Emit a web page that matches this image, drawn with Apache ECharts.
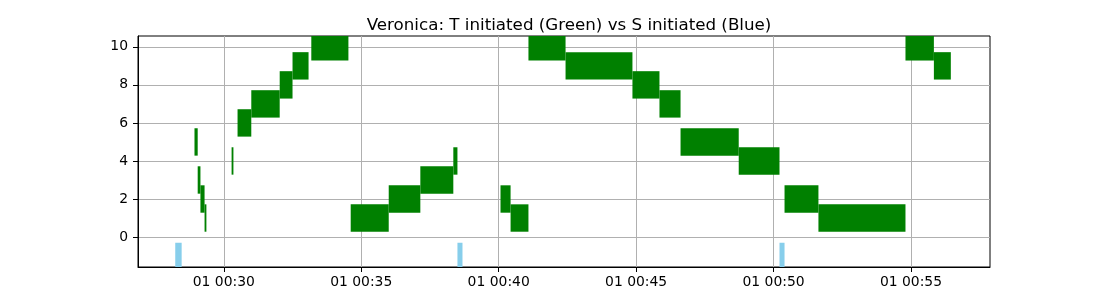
<!DOCTYPE html>
<html><head><meta charset="utf-8">
<script src="https://cdn.jsdelivr.net/npm/echarts@6/dist/echarts.min.js"></script>
<style>html,body{margin:0;padding:0;background:#fff}#c{width:1100px;height:300px}</style>
</head><body><div id="c"></div>
<script>
// ---- data (times are on day 01) ----
const dayLabel = '01';
const greenStart = ['00:28:56','00:29:03','00:29:09','00:29:18','00:30:17','00:30:30','00:31:00','00:32:02','00:32:30','00:33:11',
                    '00:34:37','00:36:00','00:37:09','00:38:21','00:40:04','00:40:26','00:41:05','00:42:26','00:44:52','00:45:51',
                    '00:46:37','00:48:44','00:50:24','00:51:38','00:54:48','00:55:50'];
const greenEnd   = ['00:29:03','00:29:09','00:29:18','00:29:22','00:30:21','00:31:00','00:32:02','00:32:30','00:33:05','00:34:32',
                    '00:36:00','00:37:09','00:38:21','00:38:30','00:40:26','00:41:05','00:42:26','00:44:52','00:45:51','00:46:37',
                    '00:48:44','00:50:13','00:51:38','00:54:48','00:55:50','00:56:27'];
const greenLevel = [5,3,2,1,4,6,7,8,9,10,
                    1,2,3,4,2,1,10,9,8,7,
                    5,4,2,1,10,9];
const blueStart = ['00:28:14','00:38:30','00:50:13'];
const blueEnd   = ['00:28:28','00:38:41','00:50:24'];
const blueLevel = [-1,-1,-1];
const xTickLabels = ['00:30','00:35','00:40','00:45','00:50','00:55'];
const yTickValues = [0,2,4,6,8,10];
const xRange = ['00:26:52.7','00:57:52.5'];
const yRange = [-1.575, 10.57];

function toSec(s){const p=s.split(':').map(Number);return p[0]*3600+p[1]*60+(p[2]||0);}
function pad(n){return (n<10?'0':'')+n;}
function fmtX(v){const h=Math.floor(v/3600), m=Math.floor((v%3600)/60);return dayLabel+' '+pad(h)+':'+pad(m);}

const greenData = greenStart.map((s,i)=>[toSec(s), toSec(greenEnd[i]), greenLevel[i]]);
const blueData = blueStart.map((s,i)=>[toSec(s), toSec(blueEnd[i]), blueLevel[i]]);
const xTicks = xTickLabels.map(toSec);

function renderBar(halfH){
  return function(params, api){
    const s = api.value(0), e = api.value(1), lv = api.value(2);
    const p0 = api.coord([s, lv + halfH]);
    const p1 = api.coord([e, lv - halfH]);
    const cs = params.coordSys;
    const rect = echarts.graphic.clipRectByRect(
      {x:p0[0], y:p0[1], width:p1[0]-p0[0], height:p1[1]-p0[1]},
      {x:cs.x, y:cs.y, width:cs.width, height:cs.height});
    return rect && {type:'rect', shape:rect, style:{fill: api.visual('color')}};
  };
}

const font = 'DejaVu Sans';
const chart = echarts.init(document.getElementById('c'), null, {renderer:'canvas'});
chart.setOption({
  animation:false,
  backgroundColor:'#fff',
  title:{
    text:'Veronica: T initiated (Green) vs S initiated (Blue)',
    left:564, top:12, textAlign:'center',
    textStyle:{fontFamily:font, fontSize:16.7, fontWeight:'normal', color:'#000'}
  },
  grid:{left:138, right:110, top:36, bottom:33, show:true, borderColor:'#000', borderWidth:1, backgroundColor:'transparent'},
  xAxis:{
    type:'value', min:toSec(xRange[0]), max:toSec(xRange[1]), splitNumber:5,
    axisLine:{show:true, onZero:false, lineStyle:{color:'#000', width:1}},
    axisTick:{show:true, length:5, lineStyle:{color:'#000'}, customValues:xTicks},
    axisLabel:{customValues:xTicks, formatter:fmtX, margin:8,
      fontFamily:font, fontSize:13.9, color:'#000'},
    splitLine:{show:true, lineStyle:{color:'#b0b0b0', width:1}}
  },
  yAxis:{
    type:'value', min:yRange[0], max:yRange[1], splitNumber:5,
    axisLine:{show:true, onZero:false, lineStyle:{color:'#000', width:1}},
    axisTick:{show:true, length:5, lineStyle:{color:'#000'}, customValues:yTickValues},
    axisLabel:{customValues:yTickValues, margin:10,
      fontFamily:font, fontSize:13.9, color:'#000'},
    splitLine:{show:true, lineStyle:{color:'#b0b0b0', width:1}}
  },
  series:[
    {type:'custom', name:'T', renderItem:renderBar(0.72), encode:{x:[0,1], y:2}, data:greenData, itemStyle:{color:'#008000'}, clip:true},
    {type:'custom', name:'S', renderItem:renderBar(0.7), encode:{x:[0,1], y:2}, data:blueData, itemStyle:{color:'#87ceeb'}, clip:true}
  ]
});
</script>
</body></html>
